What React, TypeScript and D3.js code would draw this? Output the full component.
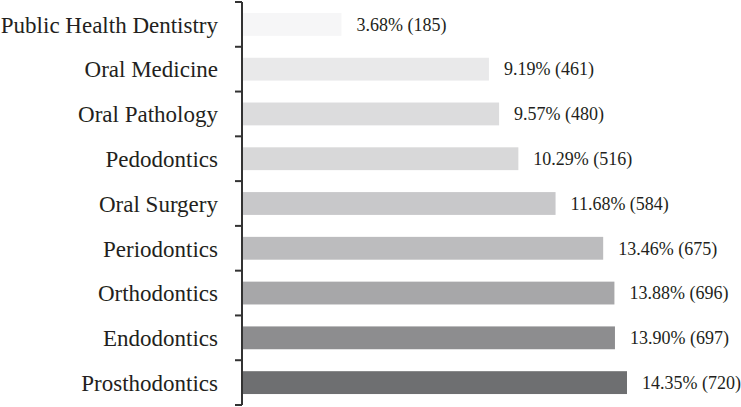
import React, { useRef, useEffect } from 'react';
import * as d3 from 'd3';

const categories = [
    'Public Health Dentistry',
    'Oral Medicine',
    'Oral Pathology',
    'Pedodontics',
    'Oral Surgery',
    'Periodontics',
    'Orthodontics',
    'Endodontics',
    'Prosthodontics',
];
const percents = [3.68, 9.19, 9.57, 10.29, 11.68, 13.46, 13.88, 13.90, 14.35];
const counts = [185, 461, 480, 516, 584, 675, 696, 697, 720];
const barColors = ['#f6f6f7', '#e9e9ea', '#dcdcdd', '#d8d8d9', '#c8c8ca', '#bcbcbe', '#a7a7a9', '#8d8d8f', '#6e6f71'];

export default function App() {
    const svgRef = useRef<SVGSVGElement>(null);
    const width = 741;
    const height = 407;

    useEffect(() => {
        if (!svgRef.current) return;
        const svg = d3.select(svgRef.current);
        svg.selectAll('*').remove();

        const axisX = 242;
        const top = 2;
        const bottom = 405;

        const y = d3.scaleBand<string>()
            .domain(categories)
            .range([top, bottom])
            .paddingInner(0.49)
            .paddingOuter(0.245);

        const x = d3.scaleLinear()
            .domain([0, 14.35])
            .range([axisX + 1, 627]);

        // bars
        svg.selectAll('.bar')
            .data(categories)
            .enter()
            .append('rect')
            .attr('class', 'bar')
            .attr('x', x(0))
            .attr('y', d => y(d) as number)
            .attr('width', (d, i) => x(percents[i]) - x(0))
            .attr('height', y.bandwidth())
            .attr('fill', (d, i) => barColors[i]);

        // value labels
        svg.selectAll('.val')
            .data(categories)
            .enter()
            .append('text')
            .attr('class', 'val')
            .attr('x', (d, i) => x(percents[i]) + 15)
            .attr('y', d => (y(d) as number) + y.bandwidth() / 2)
            .attr('dy', '0.35em')
            .attr('font-family', '"Liberation Serif", serif')
            .attr('font-size', '18px')
            .attr('fill', '#231f20')
            .text((d, i) => `${percents[i].toFixed(2)}% (${counts[i]})`);

        // category labels
        svg.selectAll('.cat')
            .data(categories)
            .enter()
            .append('text')
            .attr('class', 'cat')
            .attr('x', 218)
            .attr('y', d => (y(d) as number) + y.bandwidth() / 2)
            .attr('dy', '0.36em')
            .attr('text-anchor', 'end')
            .attr('font-family', '"Liberation Serif", serif')
            .attr('font-size', '23px')
            .attr('fill', '#231f20')
            .text(d => d);

        // axis line with ticks at band boundaries
        svg.append('line')
            .attr('x1', axisX)
            .attr('x2', axisX)
            .attr('y1', top)
            .attr('y2', bottom)
            .attr('stroke', '#333')
            .attr('stroke-width', 2);

        const step = y.step();
        const tickYs = d3.range(categories.length + 1).map(i => top + i * step);
        svg.selectAll('.tick')
            .data(tickYs)
            .enter()
            .append('line')
            .attr('class', 'tick')
            .attr('x1', axisX - 7)
            .attr('x2', axisX)
            .attr('y1', d => d)
            .attr('y2', d => d)
            .attr('stroke', '#333')
            .attr('stroke-width', 2);
    }, []);

    return (
        <svg
            ref={svgRef}
            width={width}
            height={height}
            style={{ position: 'absolute', left: 0, top: 0, background: '#fff' }}
        />
    );
}
